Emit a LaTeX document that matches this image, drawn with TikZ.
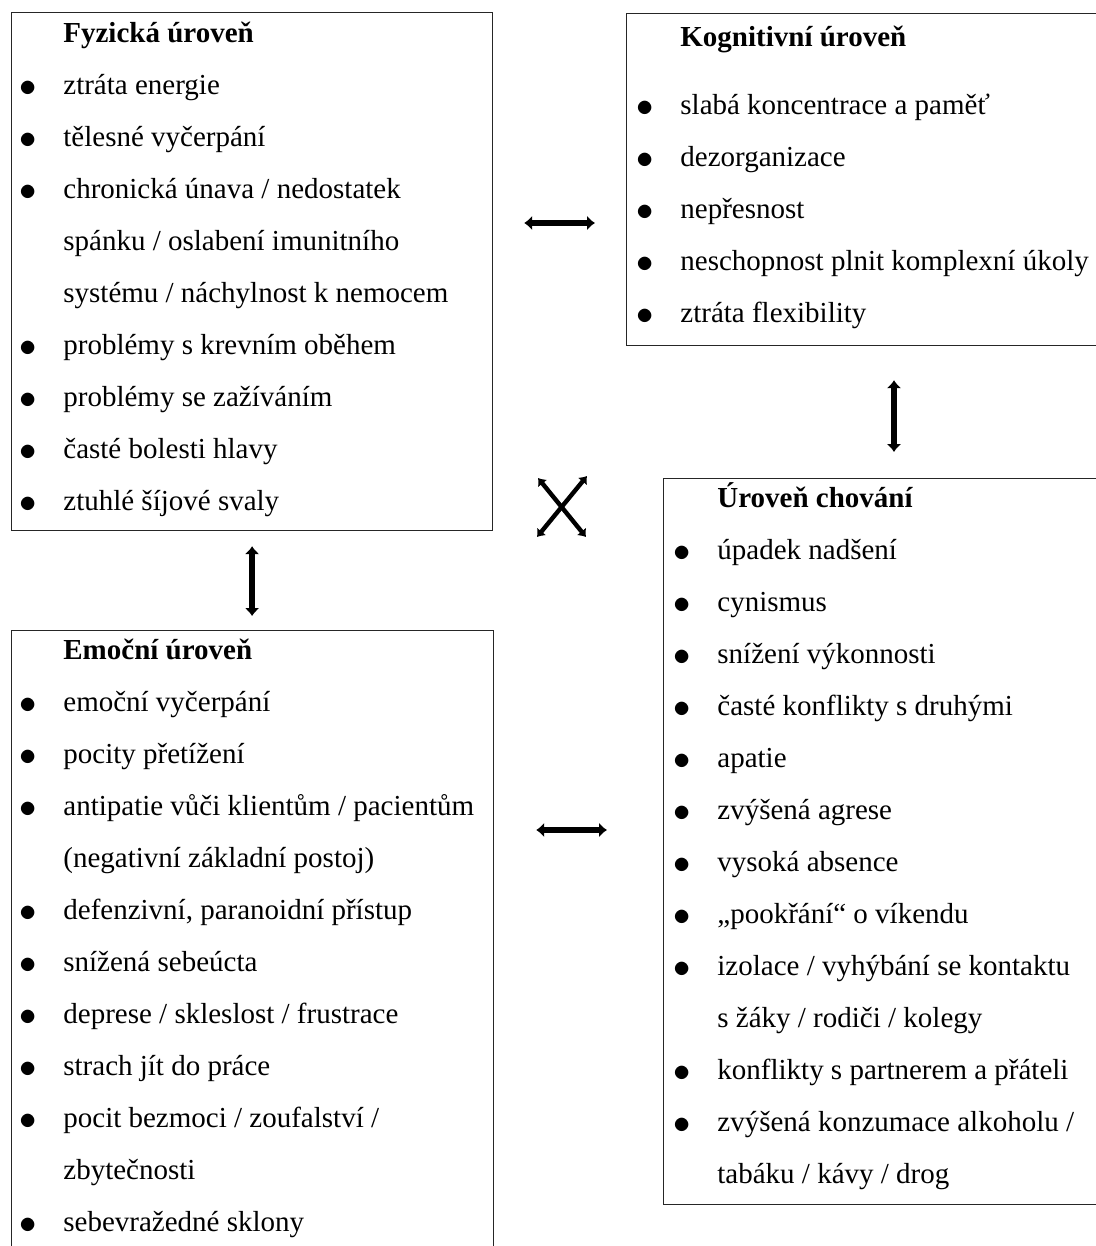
\documentclass[tikz,border=0pt]{standalone}
\usepackage{fontspec}
\setmainfont{Liberation Serif}
\usepackage{tikz}
\usetikzlibrary{arrows.meta,positioning}
\newcommand{\listbul}{\makebox[22pt][l]{\raisebox{-0.9pt}{\fontsize{18.5}{18.5}\selectfont$\bullet$}}}
\newcommand{\listcont}{\hspace*{22pt}}
\newcommand{\levelfont}{\fontsize{14.5}{26}\selectfont}

\begin{document}
\begin{tikzpicture}[x=0.5pt, y=-0.5pt,
    level/.style={draw=black!85, line width=0.6pt, anchor=north west,
        inner sep=0pt},
    items/.style={anchor=north west, align=left, inner sep=0pt,
        font=\levelfont},
    link/.style={{Latex[length=4pt,width=7.5pt]}-{Latex[length=4pt,width=7.5pt]},
        line width=3pt},
    cross/.style={{Latex[length=3.5pt,width=6pt]}-{Latex[length=3.5pt,width=6pt]},
        line width=2.2pt}
]
\useasboundingbox (0,0) rectangle (1096,1246);
\clip (0,0) rectangle (1096,1246);
% the four levels
\node[level, minimum width=240.5pt, minimum height=259pt] (fyz) at (11,12) {};
\node[level, minimum width=242pt, minimum height=166pt] (kog) at (626,13) {};
\node[level, minimum width=223.5pt, minimum height=363pt] (beh) at (663,478) {};
\node[level, minimum width=241pt, minimum height=315pt] (emo) at (11,630) {};
\node[items] (fyztxt) at ([shift={(8,2)}]fyz.north west)
    {\listcont\rule{0pt}{14pt}\textbf{Fyzická úroveň}\\
     \listbul ztráta energie\\
     \listbul tělesné vyčerpání\\
     \listbul chronická únava / nedostatek\\
     \listcont spánku / oslabení imunitního\\
     \listcont systému / náchylnost k nemocem\\
     \listbul problémy s krevním oběhem\\
     \listbul problémy se zažíváním\\
     \listbul časté bolesti hlavy\\
     \listbul ztuhlé šíjové svaly};
\node[items] (kogtxt) at ([shift={(10,5)}]kog.north west)
    {\listcont\rule{0pt}{14pt}\textbf{Kognitivní úroveň}\\[8pt]
     \listbul slabá koncentrace a paměť\\
     \listbul dezorganizace\\
     \listbul nepřesnost\\
     \listbul neschopnost plnit komplexní úkoly\\
     \listbul ztráta flexibility};
\node[items] (behtxt) at ([shift={(10,1)}]beh.north west)
    {\listcont\rule{0pt}{14pt}\textbf{Úroveň chování}\\
     \listbul úpadek nadšení\\
     \listbul cynismus\\
     \listbul snížení výkonnosti\\
     \listbul časté konflikty s druhými\\
     \listbul apatie\\
     \listbul zvýšená agrese\\
     \listbul vysoká absence\\
     \listbul „pookřání“ o víkendu\\
     \listbul izolace / vyhýbání se kontaktu\\
     \listcont s žáky / rodiči / kolegy\\
     \listbul konflikty s partnerem a přáteli\\
     \listbul zvýšená konzumace alkoholu /\\
     \listcont tabáku / kávy / drog};
\node[items] (emotxt) at ([shift={(8,1)}]emo.north west)
    {\listcont\rule{0pt}{14pt}\textbf{Emoční úroveň}\\
     \listbul emoční vyčerpání\\
     \listbul pocity přetížení\\
     \listbul antipatie vůči klientům / pacientům\\
     \listcont (negativní základní postoj)\\
     \listbul defenzivní, paranoidní přístup\\
     \listbul snížená sebeúcta\\
     \listbul deprese / skleslost / frustrace\\
     \listbul strach jít do práce\\
     \listbul pocit bezmoci / zoufalství /\\
     \listcont zbytečnosti\\
     \listbul sebevražedné sklony};
% links between levels
\coordinate (rowA) at (0,223);
\coordinate (rowB) at (0,830);
\coordinate (colR) at (894,0);
\coordinate (xa) at (538,478);
\coordinate (xb) at (586,537);
\coordinate (xc) at (587,476);
\coordinate (xd) at (537,537);
\draw[link, shorten <=15.5pt, shorten >=15.5pt] (fyz.east |- rowA) -- (kog.west |- rowA);
\draw[link, shorten <=7.5pt, shorten >=7pt] (fyz.south) -- (fyz.south |- emo.north);
\draw[link, shorten <=17pt, shorten >=13pt] (kog.south -| colR) -- (beh.north -| colR);
\draw[link, shorten <=21pt, shorten >=28pt] (emo.east |- rowB) -- (beh.west |- rowB);
\draw[cross] (xa) -- (xb);
\draw[cross] (xc) -- (xd);
\end{tikzpicture}
\end{document}
